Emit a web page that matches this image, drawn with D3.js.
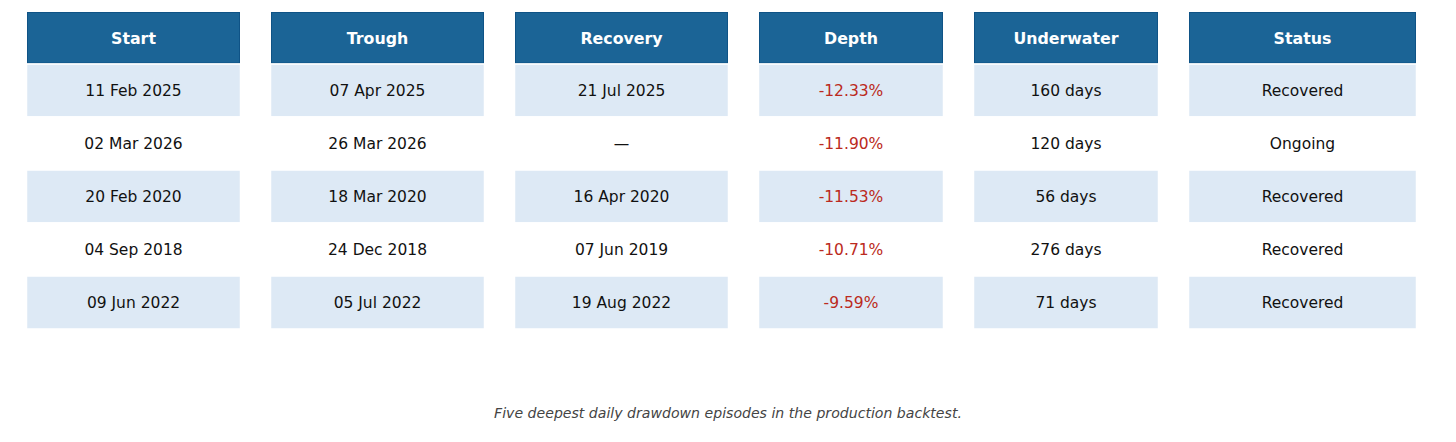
<!DOCTYPE html>
<html>
<head>
<meta charset="utf-8">
<script src="https://cdn.jsdelivr.net/npm/d3@7"></script>
<style>
  body { margin: 0; background: #fff; }
  text { font-family: "DejaVu Sans", sans-serif; }
</style>
</head>
<body>
<div id="chart"></div>
<script>
// table content
var columns = ["Start", "Trough", "Recovery", "Depth", "Underwater", "Status"]
var starts = ["11 Feb 2025", "02 Mar 2026", "20 Feb 2020", "04 Sep 2018", "09 Jun 2022"]
var troughs = ["07 Apr 2025", "26 Mar 2026", "18 Mar 2020", "24 Dec 2018", "05 Jul 2022"]
var recoveries = ["21 Jul 2025", "—", "16 Apr 2020", "07 Jun 2019", "19 Aug 2022"]
var depths = [-12.33, -11.90, -11.53, -10.71, -9.59]
var underwater = [160, 120, 56, 276, 71]
var statuses = ["Recovered", "Ongoing", "Recovered", "Recovered", "Recovered"]
var caption = "Five deepest daily drawdown episodes in the production backtest."

var width = 1456
var height = 442

// column widths (px) and gap between the column blocks
var colWidths = [213, 213, 213, 184, 184, 227]
var gap = 31
var leftX = 27
var topY = 11
var rowH = 53

var rows = d3.range(starts.length).map(function(i) {
  return [
    starts[i],
    troughs[i],
    recoveries[i],
    depths[i].toFixed(2) + "%",
    underwater[i] + " days",
    statuses[i]
  ]
})

var colX = []
var acc = leftX
colWidths.forEach(function(w) { colX.push(acc); acc += w + gap })

var yScale = d3.scaleBand()
  .domain(d3.range(rows.length + 1))
  .range([topY, topY + rowH * (rows.length + 1)])
  .padding(0)

var svg = d3.select("#chart")
  .append("svg")
  .attr("width", width)
  .attr("height", height)

// header
var head = svg.append("g")
columns.forEach(function(c, j) {
  head.append("rect")
    .attr("x", colX[j] + 0.5)
    .attr("y", yScale(0) + 1.5)
    .attr("width", colWidths[j] - 1)
    .attr("height", yScale.bandwidth() - 2.5)
    .attr("fill", "#1b6496")
    .attr("stroke", "#0f5386")
    .attr("stroke-width", 1)
  head.append("text")
    .attr("x", colX[j] + colWidths[j] / 2)
    .attr("y", yScale(0) + yScale.bandwidth() / 2 + 0.5)
    .attr("dy", "0.36em")
    .attr("text-anchor", "middle")
    .attr("font-size", "15.8px")
    .attr("font-weight", "bold")
    .attr("fill", "#ffffff")
    .text(c)
})

// body rows
rows.forEach(function(r, i) {
  var g = svg.append("g")
  r.forEach(function(v, j) {
    g.append("rect")
      .attr("x", colX[j] - 0.5)
      .attr("y", yScale(i + 1))
      .attr("width", colWidths[j] + 1)
      .attr("height", yScale.bandwidth())
      .attr("fill", i % 2 === 0 ? "#dde9f5" : "#ffffff")
      .attr("stroke", "#ffffff")
      .attr("stroke-width", 1.5)
    g.append("text")
      .attr("x", colX[j] + colWidths[j] / 2)
      .attr("y", yScale(i + 1) + yScale.bandwidth() / 2)
      .attr("dy", "0.36em")
      .attr("text-anchor", "middle")
      .attr("font-size", "15.5px")
      .attr("fill", j === 3 ? "#bb2a20" : "#111111")
      .text(v)
  })
})

svg.append("text")
  .attr("x", width / 2)
  .attr("y", 413)
  .attr("dy", "0.36em")
  .attr("text-anchor", "middle")
  .attr("font-size", "14.1px")
  .attr("font-style", "italic")
  .attr("fill", "#444444")
  .text(caption)
</script>
</body>
</html>
